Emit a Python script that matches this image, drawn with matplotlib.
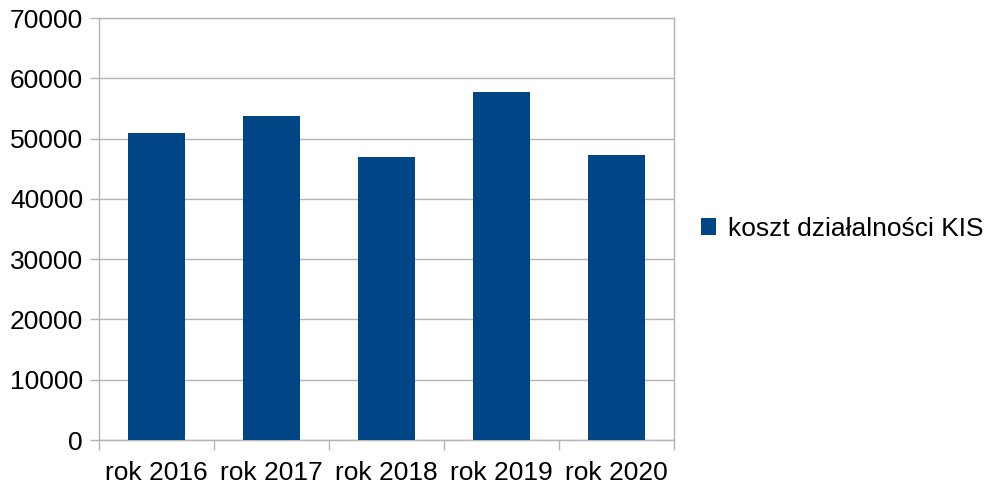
import matplotlib
matplotlib.use("Agg")
from matplotlib import pyplot as plt
import numpy as np

plt.rcParams['font.family'] = ['Liberation Sans', 'DejaVu Sans']

lata = ["rok 2016", "rok 2017", "rok 2018", "rok 2019", "rok 2020"]
koszt = [51000, 53760, 46960, 57730, 47290]
seria = "koszt działalności KIS"

fig = plt.figure(figsize=(9.87, 4.86), dpi=100)
ax = fig.add_axes([99/987, 46/486, 575/987, 422/486])

x = np.arange(len(lata))
ax.bar(x, koszt, width=0.5, color="#004586", label=seria, zorder=3)

ax.set_xlim(-0.5, len(lata) - 0.5)
ax.set_ylim(0, 70000)
ax.set_yticks(range(0, 70001, 10000))
ax.yaxis.grid(True, color="#b3b3b3", linewidth=1, zorder=0)

# kategorie: etykiety w srodku, kreski na granicach
ax.set_xticks(x)
ax.set_xticklabels(lata)
ax.set_xticks(np.arange(-0.5, len(lata), 1), minor=True)
ax.tick_params(axis="x", which="major", length=0, labelsize=19, pad=15)
ax.tick_params(axis="x", which="minor", length=7, color="#b3b3b3", width=1)
ax.tick_params(axis="y", length=6.5, color="#b3b3b3", width=1, labelsize=19, pad=5)

for s in ax.spines.values():
    s.set_color("#b3b3b3")
    s.set_linewidth(1)

ax.legend(loc="center left", bbox_to_anchor=(1.005, 0.5), frameon=False,
          fontsize=19, handlelength=0.6, handleheight=0.6, handletextpad=0.45)

fig.savefig("out.png", dpi=100)
